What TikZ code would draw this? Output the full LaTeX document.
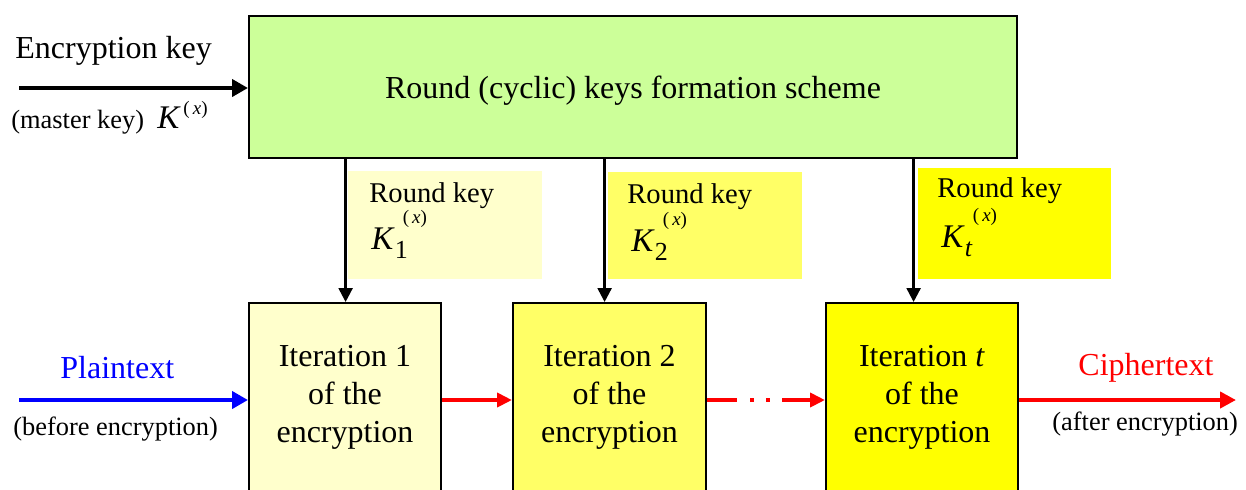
\documentclass[tikz,border=0pt]{standalone}
\usepackage{fontspec}
\setmainfont{Liberation Serif}
\usetikzlibrary{arrows.meta}

\definecolor{keygreen}{HTML}{CCFF99}
\definecolor{paleyellow}{HTML}{FFFFCC}
\definecolor{midyellow}{HTML}{FFFF66}
\definecolor{fullyellow}{HTML}{FFFF00}
\definecolor{ared}{HTML}{FF0000}
\definecolor{ablue}{HTML}{0000FF}

% round key symbol K_i^{(x)}
\newcommand{\roundkeysym}[1]{%
  \textit{K}\rlap{\raisebox{-0.3em}{\fontsize{13}{13}\selectfont #1}}%
  \hspace{0.24em}\raisebox{0.76em}{\fontsize{9.5}{9.5}\selectfont(\,\textit{x})}}

\tikzset{
  schemebox/.style={draw=black, line width=1pt, fill=keygreen, inner sep=0pt,
    minimum width=384pt, minimum height=71pt},
  iterbox/.style={draw=black, line width=1pt, inner sep=0pt,
    minimum width=96pt, minimum height=120pt},
  itertext/.style={align=center, inner sep=0pt, font=\fontsize{16}{18.8}\selectfont},
  labelbox/.style={inner sep=0pt, draw=none},
  keytext/.style={anchor=base west, inner sep=0pt, font=\fontsize{14.3}{16}\selectfont},
  keysym/.style={anchor=base west, inner sep=0pt, font=\fontsize{16.5}{18}\selectfont},
  plaintxt/.style={anchor=base west, inner sep=0pt, font=\fontsize{16}{18}\selectfont},
  smalltxt/.style={anchor=base west, inner sep=0pt, font=\fontsize{13.2}{15}\selectfont},
  harrow/.style={line width=2pt, -{Triangle[length=8pt,width=8.5pt]}},
  varrow/.style={line width=1.2pt, black, -{Triangle[length=7pt,width=7pt]}},
  redarrow/.style={harrow, ared, -{Triangle[length=7.5pt,width=7pt]}},
}

\begin{document}
\begin{tikzpicture}[x=0.5pt, y=-0.5pt]
  \useasboundingbox (0,0) rectangle (1246,489);
  \clip (0,0) rectangle (1246,489);

  % key schedule block
  \node[schemebox] (sched) at (633,87) {};
  \node[plaintxt, anchor=base] (schedtxt) at (633,98) {Round (cyclic) keys formation scheme};

  % round-key label panels
  \node[labelbox, fill=paleyellow, minimum width=97pt, minimum height=54pt] (lb1) at (445,225) {};
  \node[labelbox, fill=midyellow, minimum width=97pt, minimum height=53.5pt] (lb2) at (705,225.5) {};
  \node[labelbox, fill=fullyellow, minimum width=96.5pt, minimum height=55.5pt] (lb3) at (1014.5,223.5) {};

  \node[keytext] (rk1) at (369,202) {Round key};
  \node[keysym]  (ks1) at (371,249) {\roundkeysym{1}};
  \node[keytext] (rk2) at (627,203) {Round key};
  \node[keysym]  (ks2) at (631,251) {\roundkeysym{2}};
  \node[keytext] (rk3) at (937,197) {Round key};
  \node[keysym]  (ks3) at (941,247) {\roundkeysym{\textit{t}}};

  % encryption iterations
  \node[iterbox, fill=paleyellow, minimum width=96pt]   (it1) at (345,423) {};
  \node[iterbox, fill=midyellow, minimum width=96.5pt]  (it2) at (609.5,423) {};
  \node[iterbox, fill=fullyellow, minimum width=96pt]   (it3) at (922,423) {};

  \node[itertext, anchor=base] (tx1) at (345,442) {Iteration 1\\of the\\encryption};
  \node[itertext, anchor=base] (tx2) at (609.5,442) {Iteration 2\\of the\\encryption};
  \node[itertext, anchor=base] (tx3) at (922,442) {Iteration \textit{t}\\of the\\encryption};

  % master key input
  \coordinate (kin) at (19,88);
  \node[plaintxt] (enckey) at (15,58) {Encryption key};
  \node[smalltxt] (master) at (11,128) {(master key)};
  \node[keysym] (mk) at (157,128) {\textit{K}\hspace{0.08em}\raisebox{0.4em}{\fontsize{9.5}{9.5}\selectfont(\,\textit{x})}};
  \draw[harrow, black] (kin) -- (kin -| sched.west);

  % round keys down to the iterations
  \draw[varrow] ([xshift=-1pt]lb1.west |- sched.south) -- ([xshift=-1pt]lb1.west |- it1.north);
  \draw[varrow] ([xshift=-1.5pt]lb2.west |- sched.south) -- ([xshift=-1.5pt]lb2.west |- it2.north);
  \draw[varrow] ([xshift=-2pt]lb3.west |- sched.south) -- ([xshift=-2pt]lb3.west |- it3.north);

  % data path
  \coordinate (pin) at (19,400);
  \coordinate (cout) at (1236,400);
  \node[plaintxt, text=ablue] (ptxt) at (60,378) {Plaintext};
  \node[smalltxt] (before) at (13,435) {(before encryption)};
  \node[plaintxt, text=ared] (ctxt) at (1078,375) {Ciphertext};
  \node[smalltxt] (after) at (1052,430) {(after encryption)};

  \draw[harrow, ablue] (pin) -- (pin -| it1.west);
  \draw[redarrow] (it1.east |- pin) -- (it2.west |- pin);
  \draw[redarrow, dash pattern=on 15pt off 6.5pt on 2pt off 6pt on 2pt off 6pt]
    (it2.east |- pin) -- (it3.west |- pin);
  \draw[redarrow, -{Triangle[length=8pt,width=8pt]}] (it3.east |- pin) -- (cout);
\end{tikzpicture}
\end{document}
